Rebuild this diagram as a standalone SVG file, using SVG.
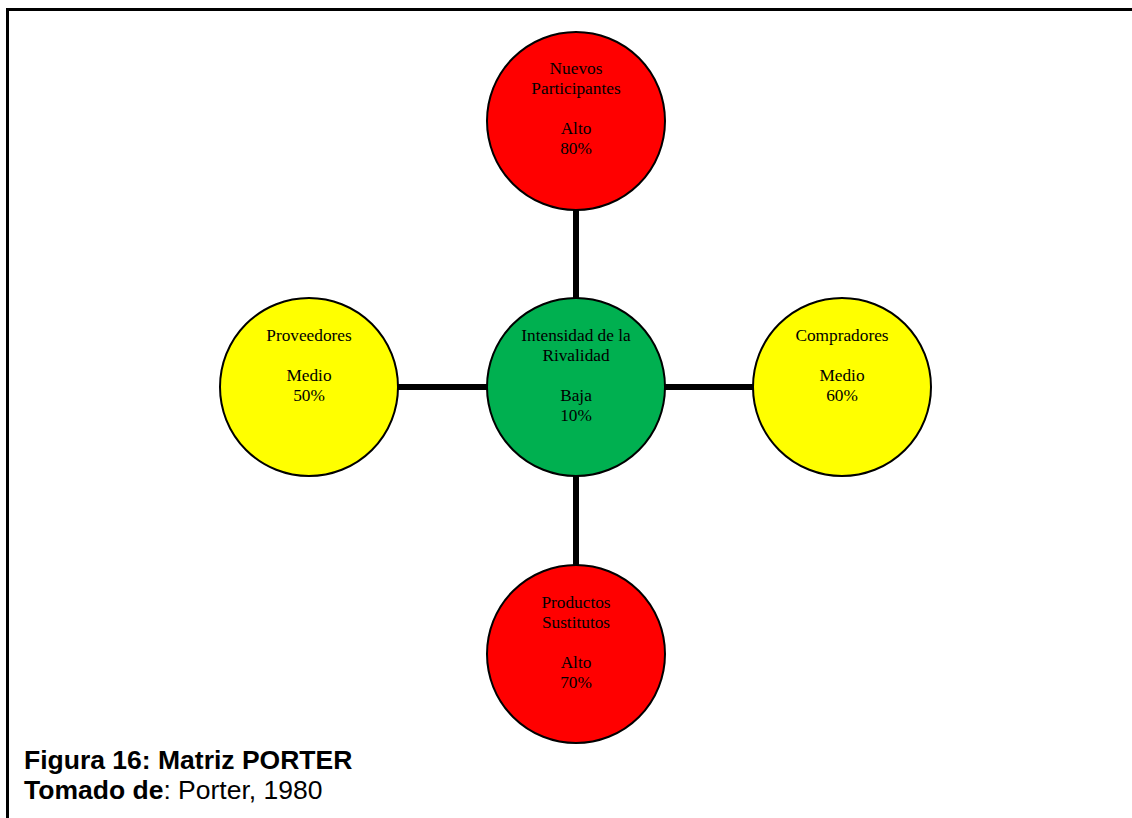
<svg xmlns="http://www.w3.org/2000/svg" width="1132" height="818" viewBox="0 0 1132 818">
<style>
.n{stroke:#000;stroke-width:2}
.red{fill:#FF0000}.yel{fill:#FFFF00}.grn{fill:#00B050}
.t{font-family:"Liberation Serif",serif;font-size:17.3px;fill:#000;text-anchor:middle}
.c{stroke:#000;stroke-width:6;fill:none}
.cap{font-family:"Liberation Sans",Arial,sans-serif;font-size:26.5px;fill:#000}
</style>
<rect width="1132" height="818" fill="#fff"/>
<path d="M7.5 818 V9.5 H1132" fill="none" stroke="#000" stroke-width="3"/>
<g id="connectors">
<line class="c" x1="576" y1="208" x2="576" y2="300"/>
<line class="c" x1="576" y1="474" x2="576" y2="567"/>
<line class="c" x1="396" y1="387" x2="489" y2="387"/>
<line class="c" x1="663" y1="387" x2="755" y2="387"/>
</g>
<g id="nuevos">
<circle class="n red" cx="576" cy="121" r="89"/>
<text class="t" x="576" y="74">Nuevos</text>
<text class="t" x="576" y="94">Participantes</text>
<text class="t" x="576" y="134">Alto</text>
<text class="t" x="576" y="154">80%</text>
</g>
<g id="rivalidad">
<circle class="n grn" cx="576" cy="387" r="89"/>
<text class="t" x="576" y="341">Intensidad de la</text>
<text class="t" x="576" y="361">Rivalidad</text>
<text class="t" x="576" y="401">Baja</text>
<text class="t" x="576" y="421">10%</text>
</g>
<g id="proveedores">
<circle class="n yel" cx="309" cy="387" r="89"/>
<text class="t" x="309" y="341">Proveedores</text>
<text class="t" x="309" y="381">Medio</text>
<text class="t" x="309" y="401">50%</text>
</g>
<g id="compradores">
<circle class="n yel" cx="842" cy="387" r="89"/>
<text class="t" x="842" y="341">Compradores</text>
<text class="t" x="842" y="381">Medio</text>
<text class="t" x="842" y="401">60%</text>
</g>
<g id="sustitutos">
<circle class="n red" cx="576" cy="654" r="89"/>
<text class="t" x="576" y="608">Productos</text>
<text class="t" x="576" y="628">Sustitutos</text>
<text class="t" x="576" y="668">Alto</text>
<text class="t" x="576" y="688">70%</text>
</g>
<g id="caption">
<text class="cap" x="24" y="769" font-weight="bold">Figura 16: Matriz PORTER</text>
<text class="cap" x="24" y="799"><tspan font-weight="bold">Tomado de</tspan>: Porter, 1980</text>
</g>
</svg>
